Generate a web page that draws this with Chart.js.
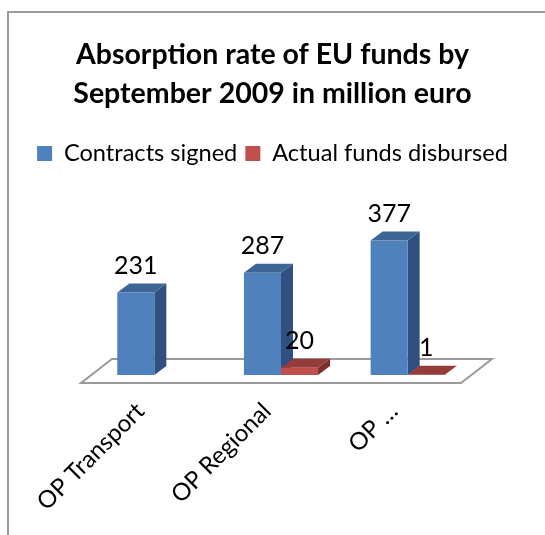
<!DOCTYPE html>
<html>
<head>
<meta charset="utf-8">
<script src="https://cdn.jsdelivr.net/npm/chart.js@4/dist/chart.umd.min.js"></script>
<style>
  html, body { margin: 0; padding: 0; background: #fff; }
  #wrap { position: relative; width: 545px; height: 535px; overflow: hidden; }
  #frame { position: absolute; left: 7px; top: 11px; width: 600px; height: 600px;
           border-left: 2px solid #9a9a9a; border-top: 2px solid #9a9a9a; }
  #chart { position: absolute; left: 0; top: 0; }
</style>
</head>
<body>
<div id="wrap">
  <div id="frame"></div>
  <canvas id="chart" width="545" height="535"></canvas>
</div>
<script>
// data
const categories = ['OP Transport', 'OP Regional', 'OP …'];
const contractsSigned = [231, 287, 377];
const fundsDisbursed = [null, 20, 1];
const titleLines = ['Absorption rate of EU funds by', 'September 2009 in million euro'];

const FONT = 'Lato, "Open Sans", sans-serif';

// faux 3D: bar depth offset and floor offsets (px)
const DEPTH = { dx: 12, dy: -9 };
const FLOOR = { front: { dx: -10, dy: 8 }, back: { dx: 21, dy: -16 } };

const shade = {
  '#4F81BD': { top: '#3D6697', side: '#2F5080' },
  '#C0504D': { top: '#943C3A', side: '#7A2E2C' }
};

const floorPlugin = {
  id: 'floor3d',
  beforeDatasetsDraw(chart) {
    const { ctx, chartArea: a, scales } = chart;
    const base = scales.y.getPixelForValue(0);
    ctx.save();
    ctx.beginPath();
    ctx.moveTo(a.left + FLOOR.front.dx, base + FLOOR.front.dy);
    ctx.lineTo(a.right + FLOOR.front.dx, base + FLOOR.front.dy);
    ctx.lineTo(a.right + FLOOR.back.dx, base + FLOOR.back.dy);
    ctx.lineTo(a.left + FLOOR.back.dx, base + FLOOR.back.dy);
    ctx.closePath();
    ctx.fillStyle = '#fff';
    ctx.fill();
    ctx.strokeStyle = '#9a9a9a';
    ctx.lineWidth = 2;
    ctx.stroke();

    // top and side faces, drawn before the front faces
    chart.data.datasets.forEach((ds, di) => {
      const meta = chart.getDatasetMeta(di);
      const c = shade[ds.backgroundColor];
      meta.data.forEach((bar, i) => {
        if (ds.data[i] == null) return;
        const l = bar.x - bar.width / 2, r = bar.x + bar.width / 2;
        const t = bar.y, b = bar.base;
        ctx.fillStyle = c.side;
        ctx.beginPath();
        ctx.moveTo(r, b);
        ctx.lineTo(r + DEPTH.dx, b + DEPTH.dy);
        ctx.lineTo(r + DEPTH.dx, t + DEPTH.dy);
        ctx.lineTo(r, t);
        ctx.closePath();
        ctx.fill();
        ctx.fillStyle = c.top;
        ctx.beginPath();
        ctx.moveTo(l, t);
        ctx.lineTo(l + DEPTH.dx, t + DEPTH.dy);
        ctx.lineTo(r + DEPTH.dx, t + DEPTH.dy);
        ctx.lineTo(r, t);
        ctx.closePath();
        ctx.fill();
      });
    });
    ctx.restore();
  },
  afterDatasetsDraw(chart) {
    const { ctx } = chart;
    ctx.save();
    ctx.font = '25px ' + FONT;
    ctx.fillStyle = '#000';
    ctx.textAlign = 'center';
    ctx.textBaseline = 'alphabetic';
    chart.data.datasets.forEach((ds, di) => {
      chart.getDatasetMeta(di).data.forEach((bar, i) => {
        if (ds.data[i] == null) return;
        ctx.fillText(String(ds.data[i]), bar.x, bar.y - 19);
      });
    });
    ctx.restore();
  }
};

new Chart(document.getElementById('chart'), {
  type: 'bar',
  data: {
    labels: categories,
    datasets: [
      { label: 'Contracts signed', data: contractsSigned, backgroundColor: '#4F81BD' },
      { label: 'Actual funds disbursed', data: fundsDisbursed, backgroundColor: '#C0504D' }
    ]
  },
  options: {
    responsive: false,
    animation: false,
    events: [],
    categoryPercentage: 0.585,
    barPercentage: 1,
    layout: { padding: { left: 0, right: 0, top: 35, bottom: 0 } },
    plugins: {
      title: {
        display: true,
        text: titleLines,
        color: '#000',
        font: { family: FONT, size: 28.5, weight: 'bold', lineHeight: 1.38 },
        padding: { top: 0, bottom: 20 }
      },
      legend: {
        display: true,
        labels: {
          color: '#000',
          font: { family: FONT, size: 23.6 },
          boxWidth: 15, boxHeight: 15, padding: 8
        }
      },
      tooltip: { enabled: false }
    },
    scales: {
      x: {
        grid: { display: false, drawTicks: false },
        border: { display: false },
        ticks: {
          color: '#000',
          font: { family: FONT, size: 24 },
          minRotation: 45, maxRotation: 45,
          labelOffset: -14, padding: 22
        },
        afterFit(s) { s.height = 160; }
      },
      y: {
        min: 0, max: 560,
        grid: { display: false }, border: { display: false },
        ticks: { display: false },
        afterFit(s) { s.width = 91; }
      },
      yR: {
        position: 'right',
        grid: { display: false }, border: { display: false },
        ticks: { display: false },
        afterFit(s) { s.width = 74; }
      }
    }
  },
  plugins: [floorPlugin]
});
</script>
</body>
</html>
